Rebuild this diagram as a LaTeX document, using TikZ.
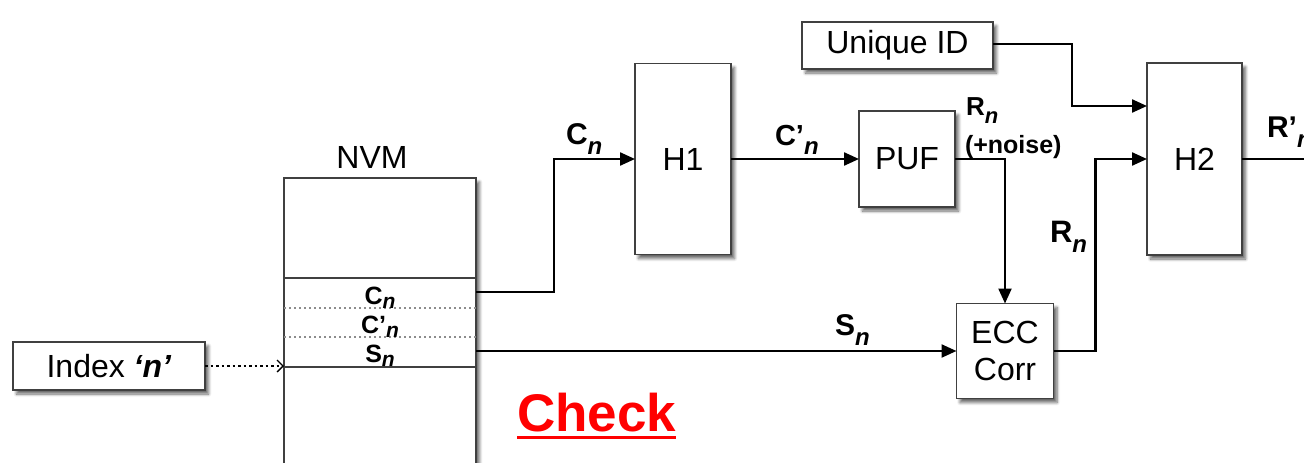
\documentclass[tikz,border=0pt]{standalone}
\usepackage{fontspec}
\setmainfont{Liberation Sans}
\usetikzlibrary{arrows.meta,shadows.blur,calc}
\newcommand{\fs}[1]{\fontsize{#1}{#1}\selectfont}
\newcommand{\sigl}[5]{{\fs{#1}\bfseries #2}{\fs{#3}\bfseries\itshape\raisebox{-#4pt}{#5}}}
\begin{document}
\begin{tikzpicture}[x=1pt,y=-1pt,
  box/.style={draw=black!75, line width=1.3pt, fill=white, inner sep=0pt, outer sep=0pt,
    font=\fs{32}, align=center,
    blur shadow={shadow xshift=3.5pt, shadow yshift=-4pt, shadow opacity=60, shadow blur steps=6, shadow blur radius=3pt}},
  conn/.style={line width=2.3pt, -{Triangle[length=15pt,width=13pt]}},
  plain/.style={line width=2.3pt},
  lab/.style={inner sep=0pt, outer sep=0pt, anchor=base west},
  nvmlab/.style={inner sep=0pt, outer sep=0pt, anchor=base}]
\useasboundingbox (0,0) rectangle (1304,463);
\clip (0,0) rectangle (1304,463);
% boxes
\node[box, minimum width=192pt, minimum height=48pt] (idx) at (109,366) {Index \textbf{\textit{‘n’}}};
\node[box, minimum width=192pt, minimum height=342pt] (nvm) at (380,349) {};
\node[box, minimum width=96pt, minimum height=191pt] (h1) at (683,159) {H1};
\node[box, minimum width=96pt, minimum height=96pt] (puf) at (907,159) {PUF};
\node[box, minimum width=97pt, minimum height=95pt] (ecc) at (1005,351) {ECC\\[5pt]Corr};
\node[box, minimum width=191pt, minimum height=47pt] (uid) at (897.5,45.5) {Unique ID};
\node[box, minimum width=95pt, minimum height=192pt] (h2) at (1194.5,159) {H2};
% NVM interior
\coordinate (rowC) at (380,292);
\coordinate (rowS) at (380,351);
\draw[line width=1.3pt, black!75] (nvm.west |- 0,278) -- (nvm.east |- 0,278);
\draw[line width=1.3pt, black!75] (nvm.west |- 0,367) -- (nvm.east |- 0,367);
\draw[line width=1.5pt, black!45, dash pattern=on 2pt off 3pt] (nvm.west |- 0,308) -- (nvm.east |- 0,308);
\draw[line width=1.5pt, black!45, dash pattern=on 2pt off 3pt] (nvm.west |- 0,337) -- (nvm.east |- 0,337);
\node[nvmlab] (ncn) at (380,304) {\sigl{25}{C}{21}{4}{n}};
\node[nvmlab] (ncpn) at (380,333) {\sigl{25}{C’}{21}{4}{n}};
\node[nvmlab] (nsn) at (380,362) {\sigl{25}{S}{21}{4}{n}};
\node[nvmlab, font=\fs{32}] (nvmt) at (372,168) {NVM};
% connectors
\draw[line width=1.5pt, dash pattern=on 2.5pt off 3pt, -{Straight Barb[length=6pt,width=12pt,line width=1.3pt]}] (idx.east) -- (idx.east -| nvm.west);
\draw[conn] (nvm.east |- rowC) -- (554,292) |- (h1.west);
\draw[conn] (h1.east) -- (puf.west);
\draw[conn] (puf.east) -| (ecc.north);
\draw[conn] (ecc.west -| nvm.east) -- (ecc.west);
\draw[conn] (ecc.east) -- ++(42,0) |- (h2.west);
\draw[conn] (uid.east |- 0,44) -- (1072,44) |- ([yshift=53pt]h2.west);
\draw[plain] (h2.east) -- ++(90,0);
% labels
\node[lab] (lcn) at (566,144) {\sigl{30}{C}{24}{10}{n}};
\node[lab] (lcpn) at (775,145) {\sigl{29}{C’}{24}{9}{n}};
\node[lab] (lsn) at (835,335) {\sigl{30}{S}{24}{10}{n}};
\node[lab] (lrn) at (1050,242) {\sigl{31}{R}{24}{10}{n}};
\node[lab] (lrpn) at (1267,137) {\sigl{30}{R’}{24}{10}{n}};
\node[lab] (lrnt) at (966,115) {\sigl{26}{R}{22}{8}{n}};
\node[lab, font=\fs{25}\bfseries] (noise) at (965,153) {(+noise)};
% Check
\node[lab, text=red, font=\fs{53}\bfseries] (chk) at (517,431) {Check};
\draw[red, line width=3pt] ([yshift=-6pt]chk.base west) -- ([yshift=-6pt]chk.base east);
\end{tikzpicture}
\end{document}
